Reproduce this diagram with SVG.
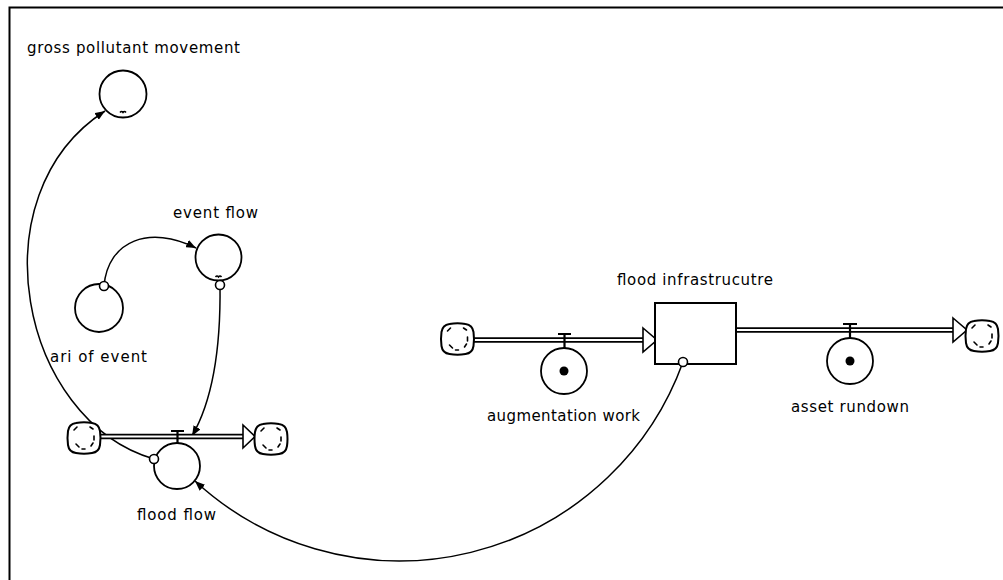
<svg xmlns="http://www.w3.org/2000/svg" width="1003" height="580" viewBox="0 0 1003 580">
  <style>
    .lbl{font-family:"DejaVu Sans","Liberation Sans",sans-serif;font-size:15px;fill:#000}
    .ln{fill:none;stroke:#000;stroke-width:1.5}
    .aux{fill:#fff;stroke:#000;stroke-width:1.8}
    .org{fill:#fff;stroke:#000;stroke-width:1.6}
    .pipeO{fill:none;stroke:#000;stroke-width:5.5}
    .pipeI{fill:none;stroke:#fff;stroke-width:1.8}
    .head{fill:#fff;stroke:#000;stroke-width:1.6;stroke-linejoin:miter}
    .valve{fill:none;stroke:#000;stroke-width:2.2}
    .stock{fill:#fff;stroke:#000;stroke-width:2}
    .cl{fill:#fff;stroke:#000;stroke-width:2}
    .cd{fill:none;stroke:#000;stroke-width:1.6;stroke-linecap:round}
    .frame{fill:none;stroke:#000;stroke-width:2}
  </style>
  <defs>
    <marker id="arr" markerWidth="10" markerHeight="8" refX="10" refY="4" orient="auto" markerUnits="userSpaceOnUse">
      <path d="M0,0 L10,4 L0,8 Z" fill="#000"/>
    </marker>
    <!-- source / sink cloud -->
    <g id="cloud">
      <path class="cl" d="M-8,-15 Q0,-16.5 8,-15 Q15,-14 16,-7 Q17,0 16,7 Q15,14 8,15 Q0,16.5 -8,15 Q-15,14 -16,7 Q-17,0 -16,-7 Q-15,-14 -8,-15 Z"/>
      <path class="cd" d="M-10,-8 L-7,-11 M6,-11 L9,-9 M10,-2 L10,2 M7,8 L9,5 M-8,6 L-5,9 M-2,11 L1,11"/>
    </g>
  </defs>

  <rect x="0" y="0" width="1003" height="580" fill="#fff"/>
  <path class="frame" d="M9.5,580 V7.5 H1003"/>

  <!-- influence connectors -->
  <g id="connectors">
    <path class="ln" d="M104,286 C108,240 150,225 196,248" marker-end="url(#arr)"/>
    <path class="ln" d="M220,285 C221,360 210,405 192,436" marker-end="url(#arr)"/>
    <path class="ln" d="M154,459 C20,420 -25,195 105,111" marker-end="url(#arr)"/>
    <path class="ln" d="M683,362 A301.5,301.5 0 0 1 195,481" marker-end="url(#arr)"/>
  </g>

  <g id="gross-pollutant-movement">
    <text class="lbl" x="27" y="53" textLength="213" lengthAdjust="spacing">gross pollutant movement</text>
    <circle class="aux" cx="123" cy="94" r="23.5"/>
    <path class="ln" d="M120,112.5 q1.5,-2 3,0 q1.5,-2 3,0" stroke-width="1.2"/>
  </g>

  <g id="event-flow">
    <text class="lbl" x="173" y="218" textLength="85" lengthAdjust="spacing">event flow</text>
    <circle class="aux" cx="218.5" cy="257.5" r="23"/>
    <path class="ln" d="M215.5,277 q1.5,-2 3,0 q1.5,-2 3,0" stroke-width="1.2"/>
    <circle class="org" cx="220" cy="285" r="4.5"/>
  </g>

  <g id="ari-of-event">
    <circle class="aux" cx="99" cy="308" r="24"/>
    <circle class="org" cx="104" cy="286" r="4.5"/>
    <text class="lbl" x="50" y="362" textLength="97" lengthAdjust="spacing">ari of event</text>
  </g>

  <g id="flood-flow">
    <path class="pipeO" d="M100,436.5 H244"/>
    <path class="pipeI" d="M100,436.5 H244"/>
    <path class="head" d="M243,425 L255,436.5 L243,448 Z"/>
    <use href="#cloud" x="84" y="438"/>
    <use href="#cloud" x="271" y="439"/>
    <path class="valve" d="M171,431 H184 M177.5,431 V443"/>
    <circle class="aux" cx="177" cy="466" r="23"/>
    <circle class="org" cx="154" cy="459" r="4.5"/>
    <text class="lbl" x="137" y="520" textLength="79" lengthAdjust="spacing">flood flow</text>
  </g>

  <g id="augmentation-work">
    <path class="pipeO" d="M473,340 H644"/>
    <path class="pipeI" d="M473,340 H644"/>
    <path class="head" d="M643,328 L657,340 L643,352 Z"/>
    <use href="#cloud" x="457.5" y="339"/>
    <path class="valve" d="M558,334 H571 M564.5,334 V348"/>
    <circle class="aux" cx="564" cy="371" r="23"/>
    <circle cx="564" cy="371" r="4.5" fill="#000"/>
    <text class="lbl" x="487" y="421" textLength="153" lengthAdjust="spacing">augmentation work</text>
  </g>

  <g id="asset-rundown">
    <path class="pipeO" d="M736,330 H954"/>
    <path class="pipeI" d="M737,330 H954"/>
    <path class="head" d="M953,318 L967,330 L953,342 Z"/>
    <use href="#cloud" x="982" y="336"/>
    <path class="valve" d="M843,324 H857 M850,324 V338"/>
    <circle class="aux" cx="850" cy="361" r="23"/>
    <circle cx="850" cy="361" r="4.5" fill="#000"/>
    <text class="lbl" x="791" y="412" textLength="118" lengthAdjust="spacing">asset rundown</text>
  </g>

  <g id="flood-infrastrucutre">
    <text class="lbl" x="617" y="285" textLength="156" lengthAdjust="spacing">flood infrastrucutre</text>
    <rect class="stock" x="655" y="303" width="81" height="61"/>
    <circle class="org" cx="683" cy="362" r="4.5"/>
  </g>
</svg>
